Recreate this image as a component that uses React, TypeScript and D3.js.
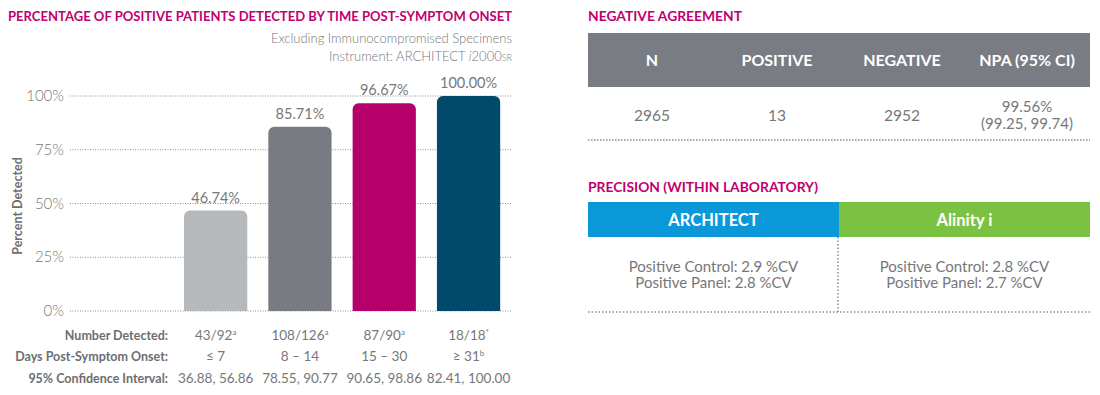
import React from "react";
import * as d3 from "d3";

const categories = ["≤ 7", "8 – 14", "15 – 30", "≥ 31"];
const percents = [46.74, 85.71, 96.67, 100.0];
const numberDetected = ["43/92", "108/126", "87/90", "18/18"];
const numberSup = ["a", "a", "a", "*"];
const daysSup = ["", "", "", "b"];
const confInts = ["36.88, 56.86", "78.55, 90.77", "90.65, 98.86", "82.41, 100.00"];
const barColors = ["#b6b9bb", "#787b82", "#b5006b", "#014a6b"];
const yTicks = [0, 25, 50, 75, 100];

const tableHeaders = ["N", "POSITIVE", "NEGATIVE", "NPA (95% CI)"];
const tableValues = ["2965", "13", "2952"];
const npaValue = "99.56%";
const npaCI = "(99.25, 99.74)";

const precisionInstruments = ["ARCHITECT", "Alinity i"];
const precisionColors = ["#0a98d8", "#7cc242"];
const precisionControl = ["Positive Control: 2.9 %CV", "Positive Control: 2.8 %CV"];
const precisionPanel = ["Positive Panel: 2.8 %CV", "Positive Panel: 2.7 %CV"];

const FONT = "Lato, 'Open Sans', sans-serif";
const MAGENTA = "#c1006f";
const GREY = "#76777b";
const DARK = "#6d6e71";

function topRoundedRect(x: number, y: number, w: number, h: number, r: number) {
  const p = d3.path();
  p.moveTo(x, y + h);
  p.lineTo(x, y + r);
  p.arcTo(x, y, x + r, y, r);
  p.lineTo(x + w - r, y);
  p.arcTo(x + w, y, x + w, y + r, r);
  p.lineTo(x + w, y + h);
  p.closePath();
  return p.toString();
}

export default function App() {
  const y = d3.scaleLinear().domain([0, 100]).range([311, 96]);
  const x = d3.scaleBand<string>().domain(categories).range([173.5, 510.7]).paddingInner(0.25).paddingOuter(0.125);
  const bw = x.bandwidth();
  const cx = (c: string) => (x(c) as number) + bw / 2;

  const colX = d3.scalePoint<string>().domain(tableHeaders).range([652, 1027]);
  const precX = d3.scaleBand<string>().domain(precisionInstruments).range([588, 1090]);

  const rowLabels = ["Number Detected:", "Days Post-Symptom Onset:", "95% Confidence Interval:"];
  const rowY = [340, 361, 383];

  return (
    <svg width={1100} height={395} style={{ position: "absolute", left: 0, top: 0, background: "#fff" }} fontFamily={FONT}>
      {/* Left title */}
      <text x={8} y={21} fontSize={12.5} fontWeight={700} fill={MAGENTA} textLength={504} lengthAdjust="spacingAndGlyphs">
        PERCENTAGE OF POSITIVE PATIENTS DETECTED BY TIME POST-SYMPTOM ONSET
      </text>
      <text x={512} y={43} fontSize={13} fill={GREY} textAnchor="end" fontWeight={300}>
        Excluding Immunocompromised Specimens
      </text>
      <text x={512} y={61} fontSize={13} fill={GREY} textAnchor="end" fontWeight={300}>
        Instrument: ARCHITECT <tspan fontStyle="italic">i</tspan>2000<tspan fontSize={9}>SR</tspan>
      </text>

      {/* gridlines */}
      {yTicks.map((t) => (
        <g key={t}>
          <line x1={70} x2={512} y1={y(t)} y2={y(t)} stroke="#8a8c8f" strokeWidth={1} strokeDasharray="1,1.5" />
          <text x={64} y={y(t) + 5} fontSize={15} fill={GREY} textAnchor="end" fontWeight={300}>
            {t}%
          </text>
        </g>
      ))}
      <text transform={`translate(22,${206}) rotate(-90)`} fontSize={12.5} fontWeight={700} fill={DARK} textAnchor="middle">
        Percent Detected
      </text>

      {/* bars */}
      {categories.map((c, i) => (
        <g key={c}>
          <path d={topRoundedRect(x(c) as number, y(percents[i]), bw, y(0) - y(percents[i]), 6)} fill={barColors[i]} />
          <text x={cx(c)} y={y(percents[i]) - 8} fontSize={14.5} fill={GREY} textAnchor="middle" fontWeight={400}>
            {percents[i].toFixed(2)}%
          </text>
        </g>
      ))}

      {/* bottom rows */}
      {rowLabels.map((l, i) => (
        <text key={l} x={168} y={rowY[i]} fontSize={12.5} fontWeight={700} fill={DARK} textAnchor="end">
          {l}
        </text>
      ))}
      {categories.map((c, i) => (
        <g key={"r" + c} fontSize={13.5} fill={GREY} textAnchor="middle" fontWeight={400}>
          <text x={cx(c)} y={rowY[0]}>
            {numberDetected[i]}
            <tspan fontSize={8} dy={-5}>{numberSup[i]}</tspan>
          </text>
          <text x={cx(c)} y={rowY[1]}>
            {categories[i]}
            {daysSup[i] ? <tspan fontSize={8} dy={-5}>{daysSup[i]}</tspan> : null}
          </text>
          <text x={cx(c)} y={rowY[2]}>{confInts[i]}</text>
        </g>
      ))}

      {/* Right: negative agreement */}
      <text x={588} y={21} fontSize={12.5} fontWeight={700} fill={MAGENTA} textLength={154} lengthAdjust="spacingAndGlyphs">
        NEGATIVE AGREEMENT
      </text>
      <rect x={588} y={33} width={502} height={54} fill="#797c82" />
      {tableHeaders.map((h) => (
        <text key={h} x={colX(h)} y={66} fontSize={16} fontWeight={700} fill="#fff" textAnchor="middle">
          {h}
        </text>
      ))}
      {tableValues.map((v, i) => (
        <text key={v} x={colX(tableHeaders[i])} y={121} fontSize={15.5} fill={GREY} textAnchor="middle" fontWeight={400}>
          {v}
        </text>
      ))}
      <text x={colX(tableHeaders[3])} y={112} fontSize={15} fill={GREY} textAnchor="middle" fontWeight={400}>
        {npaValue}
      </text>
      <text x={colX(tableHeaders[3])} y={129} fontSize={15} fill={GREY} textAnchor="middle" fontWeight={400}>
        {npaCI}
      </text>
      <line x1={588} x2={1090} y1={140} y2={140} stroke="#8a8c8f" strokeWidth={1.5} strokeDasharray="1.5,1.5" />

      {/* Precision */}
      <text x={588} y={192} fontSize={12.5} fontWeight={700} fill={MAGENTA} textLength={230} lengthAdjust="spacingAndGlyphs">
        PRECISION (WITHIN LABORATORY)
      </text>
      {precisionInstruments.map((p, i) => {
        const px = precX(p) as number;
        const w = precX.bandwidth();
        return (
          <g key={p}>
            <rect x={px} y={202} width={w} height={35} fill={precisionColors[i]} />
            <text x={px + w / 2} y={226} fontSize={16.5} fontWeight={700} fill="#fff" textAnchor="middle">
              {p}
            </text>
            <text x={px + w / 2} y={272} fontSize={15} fill={GREY} textAnchor="middle" fontWeight={400}>
              {precisionControl[i]}
            </text>
            <text x={px + w / 2} y={288} fontSize={15} fill={GREY} textAnchor="middle" fontWeight={400}>
              {precisionPanel[i]}
            </text>
          </g>
        );
      })}
      <line x1={838} x2={838} y1={237} y2={312} stroke="#8a8c8f" strokeWidth={1.5} strokeDasharray="1.5,2" />
      <line x1={588} x2={1090} y1={312} y2={312} stroke="#8a8c8f" strokeWidth={1.5} strokeDasharray="1.5,2" />
    </svg>
  );
}
